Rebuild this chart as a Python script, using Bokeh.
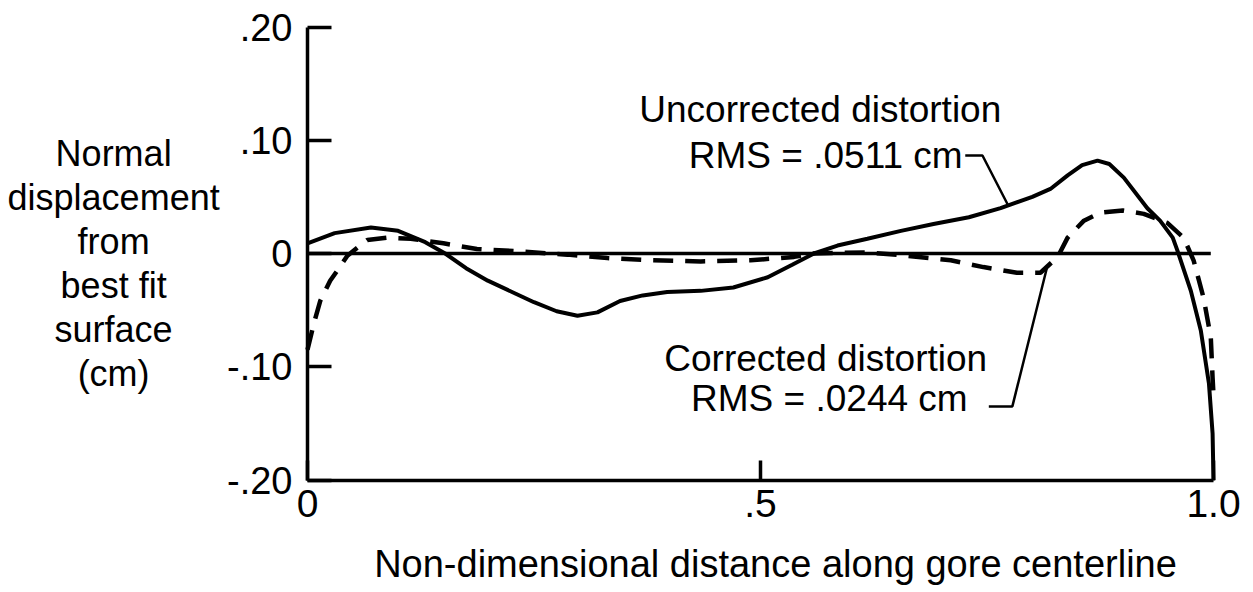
from bokeh.plotting import figure
from bokeh.models import Range1d, FixedTicker, Label
from bokeh.embed import file_html
from bokeh.resources import INLINE

# ---- data ----
unc_x = [0.0, 0.03, 0.07, 0.10, 0.13, 0.152, 0.175, 0.199, 0.25, 0.275, 0.298, 0.32,
         0.345, 0.37, 0.397, 0.434, 0.47, 0.508, 0.535, 0.559, 0.585, 0.618, 0.655,
         0.691, 0.73, 0.765, 0.80, 0.82, 0.839, 0.855, 0.872, 0.885, 0.901, 0.927,
         0.941, 0.955, 0.96, 0.975, 0.986, 0.995, 0.999, 1.0]
unc_y = [0.009, 0.018, 0.023, 0.020, 0.010, 0.0, -0.013, -0.024, -0.043, -0.051, -0.055, -0.052,
         -0.042, -0.037, -0.034, -0.033, -0.030, -0.021, -0.010, 0.0, 0.007, 0.013, 0.020,
         0.026, 0.032, 0.040, 0.050, 0.057, 0.069, 0.078, 0.082, 0.079, 0.067, 0.040,
         0.029, 0.014, 0.003, -0.033, -0.068, -0.115, -0.159, -0.200]

cor_x = [0.0, 0.007, 0.014, 0.025, 0.033, 0.044, 0.058, 0.066, 0.088, 0.114, 0.15, 0.187,
         0.231, 0.287, 0.331, 0.378, 0.434, 0.489, 0.537, 0.559, 0.618, 0.662, 0.71,
         0.746, 0.783, 0.809, 0.828, 0.839, 0.857, 0.875, 0.9, 0.923, 0.949, 0.967,
         0.978, 0.989, 0.997, 0.999, 1.0]
cor_y = [-0.085, -0.062, -0.042, -0.024, -0.015, -0.002, 0.007, 0.012, 0.014, 0.013, 0.009, 0.004,
         0.002, -0.001, -0.004, -0.006, -0.007, -0.006, -0.003, 0.0, 0.001, -0.002, -0.006,
         -0.012, -0.017, -0.017, -0.003, 0.014, 0.029, 0.036, 0.038, 0.035, 0.027, 0.014,
         -0.006, -0.039, -0.074, -0.110, -0.125]

zero_x = [0.0, 0.997]
zero_y = [0.0, 0.0]

lead_unc_x = [0.726, 0.745, 0.774]
lead_unc_y = [0.0865, 0.0865, 0.0415]
lead_cor_x = [0.752, 0.778, 0.816]
lead_cor_y = [-0.135, -0.135, -0.013]

y_ticks = [-0.2, -0.1, 0.0, 0.1, 0.2]
y_tick_labels = ["-.20", "-.10", "0", ".10", ".20"]
x_ticks = [0.0, 0.5, 1.0]
x_tick_labels = ["0", ".5", "1.0"]

y_title_lines = ["Normal", "displacement", "from", "best fit", "surface", "(cm)"]
x_title = "Non-dimensional distance along gore centerline"
unc_label = ["Uncorrected distortion", "RMS = .0511 cm"]
cor_label = ["Corrected distortion", "RMS = .0244 cm"]

FONT = "Liberation Sans"
INK = "#000000"

# ---- layout ----
W, H = 1253, 592
X0_PX, Y0_PX = 307.0, 253.0   # canvas position of the data origin
PX_X = 906.0                  # pixels per unit x
PX_Y = 1132.5                 # pixels per unit y
BASE_ADJ = 12.0               # baseline correction for Label text (px)

p = figure(width=W, height=H, output_backend="svg", toolbar_location=None,
           x_range=Range1d(-X0_PX / PX_X, (W - X0_PX) / PX_X),
           y_range=Range1d((Y0_PX - H) / PX_Y, Y0_PX / PX_Y),
           min_border_left=0, min_border_right=0, min_border_top=0, min_border_bottom=0)
p.outline_line_color = None
p.grid.visible = False
p.background_fill_color = "white"
p.border_fill_color = "white"

# axes (placed at the data origin / bottom bound)
ya = p.yaxis[0]
ya.fixed_location = 0.0
ya.bounds = (-0.2, 0.2)
ya.ticker = FixedTicker(ticks=y_ticks)
ya.major_label_overrides = {t: l for t, l in zip(y_ticks, y_tick_labels)}
ya.major_tick_in = 24
ya.major_tick_out = 0
ya.minor_tick_line_color = None
ya.axis_line_width = 3.5
ya.major_tick_line_width = 3.5
ya.axis_line_color = INK
ya.major_tick_line_color = INK
ya.major_label_text_font = FONT
ya.major_label_text_font_size = "38px"
ya.major_label_text_color = INK
ya.major_label_standoff = 15

xa = p.xaxis[0]
xa.fixed_location = -0.2
xa.bounds = (0.0, 1.0)
xa.ticker = FixedTicker(ticks=x_ticks)
xa.major_label_overrides = {t: l for t, l in zip(x_ticks, x_tick_labels)}
xa.major_tick_in = 20
xa.major_tick_out = 0
xa.minor_tick_line_color = None
xa.axis_line_width = 3.5
xa.major_tick_line_width = 3.5
xa.axis_line_color = INK
xa.major_tick_line_color = INK
xa.major_label_text_font = FONT
xa.major_label_text_font_size = "39px"
xa.major_label_text_color = INK
xa.major_label_standoff = 10

# curves
p.line(zero_x, zero_y, line_color=INK, line_width=3.5)
p.line(unc_x, unc_y, line_color=INK, line_width=4)
p.line(cor_x, cor_y, line_color=INK, line_width=4.5, line_dash="20 12")
p.line(lead_unc_x, lead_unc_y, line_color=INK, line_width=2.5)
p.line(lead_cor_x, lead_cor_y, line_color=INK, line_width=2.5)

# y title: stacked horizontal lines, centred left of the axis
title_cx = -0.214
first_base = (Y0_PX - 165 + BASE_ADJ) / PX_Y
line_step = 44.0 / PX_Y
for i, txt in enumerate(y_title_lines):
    p.add_layout(Label(x=title_cx, y=first_base - i * line_step, text=txt, text_font=FONT,
                       text_font_size="36px", text_color=INK, text_align="center",
                       text_baseline="alphabetic"))

# x title
p.add_layout(Label(x=(775 - X0_PX) / PX_X, y=(Y0_PX - 575 + BASE_ADJ) / PX_Y, text=x_title,
                   text_font=FONT, text_font_size="38px", text_color=INK,
                   text_align="center", text_baseline="alphabetic"))

# annotations
for (xx, yy, txt) in [(0.566, 0.1272, unc_label[0]), (0.572, 0.0865, unc_label[1]),
                      (0.572, -0.0927, cor_label[0]), (0.576, -0.128, cor_label[1])]:
    p.add_layout(Label(x=xx, y=yy, text=txt, text_font=FONT, text_font_size="37px",
                       text_color=INK, text_align="center", text_baseline="alphabetic"))

open("out.html", "w").write(file_html(p, INLINE))
